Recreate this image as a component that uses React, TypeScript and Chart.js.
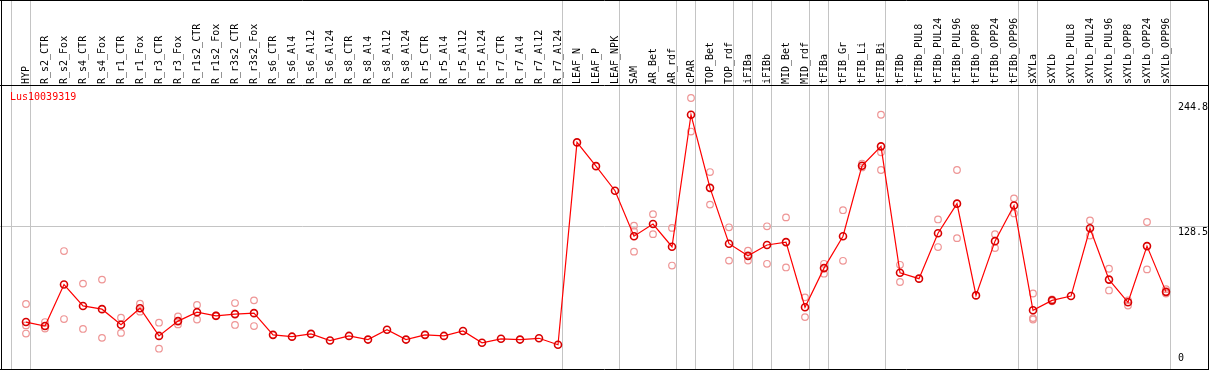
import React, { useEffect, useRef } from "react";
import { Chart, registerables } from "chart.js";

Chart.register(...registerables);

const GENE = "Lus10039319";

const CATEGORIES = [
  "HYP", "R_s2_CTR", "R_s2_Fox", "R_s4_CTR", "R_s4_Fox", "R_r1_CTR", "R_r1_Fox",
  "R_r3_CTR", "R_r3_Fox", "R_r1s2_CTR", "R_r1s2_Fox", "R_r3s2_CTR", "R_r3s2_Fox",
  "R_s6_CTR", "R_s6_Al4", "R_s6_Al12", "R_s6_Al24", "R_s8_CTR", "R_s8_Al4", "R_s8_Al12",
  "R_s8_Al24", "R_r5_CTR", "R_r5_Al4", "R_r5_Al12", "R_r5_Al24", "R_r7_CTR", "R_r7_Al4",
  "R_r7_Al12", "R_r7_Al24", "LEAF_N", "LEAF_P", "LEAF_NPK", "SAM", "AR_Bet", "AR_rdf",
  "cPAR", "TOP_Bet", "TOP_rdf", "iFIBa", "iFIBb", "MID_Bet", "MID_rdf", "tFIBa",
  "tFIB_Gr", "tFIB_Li", "tFIB_Bi", "tFIBb", "tFIBb_PUL8", "tFIBb_PUL24", "tFIBb_PUL96",
  "tFIBb_OPP8", "tFIBb_OPP24", "tFIBb_OPP96", "sXYLa", "sXYLb", "sXYLb_PUL8",
  "sXYLb_PUL24", "sXYLb_PUL96", "sXYLb_OPP8", "sXYLb_OPP24", "sXYLb_OPP96",
];

const MEAN = [
  39.4, 35.7, 74.3, 54.4, 51.4, 36.9, 52.3, 26.5, 40.3, 48.6, 45.2, 46.8, 47.7,
  27.5, 25.8, 28.4, 22.2, 26.5, 23.1, 32.3, 23.1, 27.5, 26.5, 31.1, 20.1, 23.8, 23.1,
  24.3, 18.3, 206.6, 184.5, 161.6, 119.3, 130.6, 109.5, 232.3, 164.3, 112.3, 101.0,
  111.1, 113.8, 53.2, 89.6, 119.3, 184.8, 202.9, 85.3, 79.8, 122.1, 149.6, 64.2,
  114.7, 147.8, 50.4, 59.6, 63.6, 126.7, 78.9, 57.8, 110.1, 67.5,
];

const REP1 = [
  56.2, 39.4, 105.5, 75.2, 78.9, 43.4, 56.5, 38.8, 44.6, 55.3, 45.5, 57.1, 59.6,
  null, null, null, null, null, null, null, null, null, null, null, null, null, null,
  null, null, null, null, null, 129.1, 139.8, 127.0, 247.9, 179.0, 127.6, 105.8,
  128.5, 136.8, 62.4, 93.6, 143.5, 186.9, 232.3, 92.7, null, 134.9, 180.9, null,
  121.2, 154.5, 66.0, 60.5, null, 134.0, 89.0, 59.6, 132.5, 70.0,
];

const REP2 = [
  36.3, 35.7, 42.2, 33.0, 24.7, 29.3, 49.1, 14.6, 37.2, 41.8, 44.9, 36.7, 35.7,
  null, null, null, null, null, null, null, null, null, null, null, null, null, null,
  null, null, null, null, null, 124.0, 121.2, 92.0, 216.7, 148.7, 96.6, 96.6,
  93.6, 90.2, 44.0, 84.4, 96.4, 183.3, 197.4, 76.7, null, 109.2, 117.5, null,
  108.3, 140.5, 43.1, 58.7, null, 119.9, 68.8, 54.7, 88.4, 66.0,
];

const REP3 = [
  28.7, 33.3, null, null, null, null, null, null, null, null, null, null, null,
  null, null, null, null, null, null, null, null, null, null, null, null, null, null,
  null, null, null, null, null, 104.9, null, null, null, null, null, null,
  null, null, null, null, null, null, 180.9, null, null, null, null, null,
  null, null, 41.8, null, null, null, null, null, null, null,
];

const Y_LABELS = [244.8, 128.5, 0];
const Y_GRID = [128.5];
const SEPARATORS_AFTER = [-1, 0, 28, 31, 34, 35, 37, 38, 39, 41, 42, 45, 52, 53, 60];

const FONT = '10px "DejaVu Sans Mono", "Liberation Mono", monospace';

const framePlugin = {
  id: "frame",
  beforeDatasetsDraw(chart: any) {
    const ctx = chart.ctx as CanvasRenderingContext2D;
    const xs = chart.scales.x;
    const ys = chart.scales.y;
    const W = chart.width;
    const H = chart.height;
    ctx.save();
    ctx.fillStyle = "#ffffff";
    ctx.fillRect(0, 0, W, H);

    // grey separators
    ctx.strokeStyle = "#c4c4c4";
    ctx.lineWidth = 1;
    for (const i of SEPARATORS_AFTER) {
      const px = Math.floor(xs.getPixelForValue(i) + 4.6) + 0.5;
      ctx.beginPath();
      ctx.moveTo(px, 0);
      ctx.lineTo(px, H);
      ctx.stroke();
    }
    // horizontal grid
    for (const v of Y_GRID) {
      const py = Math.floor(ys.getPixelForValue(v)) + 0.5;
      ctx.beginPath();
      ctx.moveTo(0, py);
      ctx.lineTo(W, py);
      ctx.stroke();
    }

    // black frame
    ctx.strokeStyle = "#000000";
    ctx.beginPath();
    ctx.moveTo(0, 0.5);
    ctx.lineTo(W, 0.5);
    ctx.moveTo(0, 85.5);
    ctx.lineTo(W, 85.5);
    ctx.moveTo(0, H - 0.5);
    ctx.lineTo(W, H - 0.5);
    ctx.moveTo(1.5, 0);
    ctx.lineTo(1.5, H);
    ctx.moveTo(W - 0.5, 0);
    ctx.lineTo(W - 0.5, H);
    ctx.stroke();

    // category labels (rotated)
    ctx.font = FONT;
    ctx.fillStyle = "#000000";
    ctx.textAlign = "left";
    ctx.textBaseline = "middle";
    CATEGORIES.forEach((lab, i) => {
      const px = xs.getPixelForValue(i);
      ctx.save();
      ctx.translate(px, 84);
      ctx.rotate(-Math.PI / 2);
      ctx.fillText(lab, 0, 0);
      ctx.restore();
    });

    // gene name
    ctx.fillStyle = "#ff0000";
    ctx.textBaseline = "top";
    ctx.fillText(GENE, 10, 92);

    // y labels on the right
    ctx.fillStyle = "#000000";
    for (const v of Y_LABELS) {
      const py = ys.getPixelForValue(v);
      if (v === 0) {
        ctx.textBaseline = "bottom";
        ctx.fillText(String(v), 1178, py - 0.5);
      } else {
        ctx.textBaseline = "top";
        ctx.fillText(String(v), 1178, py + 1);
      }
    }
    ctx.restore();
  },
};

export default function App() {
  const ref = useRef<HTMLCanvasElement | null>(null);
  useEffect(() => {
    document.body.style.margin = "0";
    const canvas = ref.current;
    if (!canvas) return;
    const repStyle = {
      type: "line" as const,
      showLine: false,
      pointRadius: 3.3,
      pointBorderWidth: 1.2,
      pointBorderColor: "#ee9595",
      pointBackgroundColor: "rgba(0,0,0,0)",
      clip: false as any,
      order: 2,
    };
    const chart = new Chart(canvas, {
      type: "line",
      data: {
        labels: CATEGORIES,
        datasets: [
          {
            label: GENE,
            data: MEAN,
            borderColor: "#ff0000",
            borderWidth: 1.2,
            pointRadius: 3.5,
            pointBorderWidth: 1.6,
            pointBorderColor: "#d80000",
            pointBackgroundColor: "rgba(0,0,0,0)",
            tension: 0,
            clip: false as any,
            order: 0,
          },
          { ...repStyle, label: "rep1", data: REP1 },
          { ...repStyle, label: "rep2", data: REP2 },
          { ...repStyle, label: "rep3", data: REP3 },
        ],
      },
      options: {
        animation: false,
        responsive: false,
        devicePixelRatio: 1,
        events: [],
        layout: { padding: { left: 26, right: 43, top: 85, bottom: 2 } },
        plugins: { legend: { display: false }, tooltip: { enabled: false } },
        scales: {
          x: { type: "category", display: false, offset: false },
          y: { type: "linear", display: false, min: 0, max: 260 },
        },
      },
      plugins: [framePlugin],
    });
    return () => chart.destroy();
  }, []);
  return <canvas ref={ref} width={1209} height={370} style={{ display: "block" }} />;
}
